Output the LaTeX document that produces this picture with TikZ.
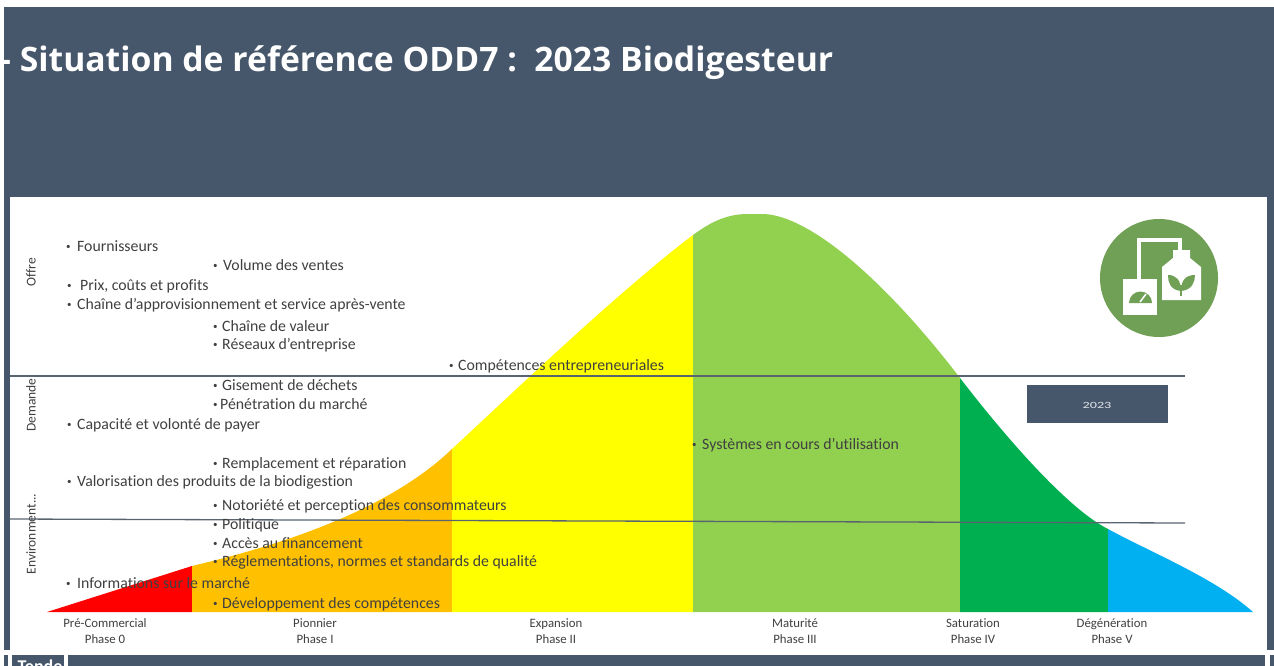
\documentclass[tikz,border=0pt]{standalone}
\usepackage{fontspec}
\setmainfont[Ligatures={TeX,NoCommon}]{Carlito}
\newfontfamily\titlefont{Open Sans}
\definecolor{slate}{HTML}{46566B}
\definecolor{txt}{HTML}{404040}
\definecolor{iconG}{HTML}{70A056}
\definecolor{cOrange}{HTML}{FFC000}
\definecolor{cRed}{HTML}{FF0000}
\definecolor{cYellow}{HTML}{FFFF00}
\definecolor{cLime}{HTML}{92D050}
\definecolor{cGreen}{HTML}{00B050}
\definecolor{cBlue}{HTML}{00B0F0}
\definecolor{ruleC}{HTML}{5A6470}
\newcommand{\bul}[1]{\makebox[#1pt][l]{\raisebox{2pt}{\fontsize{9}{9}\selectfont •}}}
\tikzset{
  item/.style={anchor=west,inner sep=0pt,text=txt,font=\fontsize{15.8}{16}\selectfont},
  phase/.style={align=center,inner sep=0pt,text=txt,font=\fontsize{12.8}{16}\selectfont},
  axislabel/.style={rotate=90,inner sep=0pt,text=txt,font=\fontsize{13.5}{14}\selectfont},
  rulel/.style={draw=ruleC,line width=1.3pt}
}
\newcommand{\curvepath}{(47,612) -- (192,566) .. controls (250,552) and (378,520) .. (452,449) .. controls (505,400) and (620,290) .. (693,235) .. controls (712,221) and (728,214) .. (748,214) -- (764,214) .. controls (810,216) and (885,280) .. (960,378) .. controls (1010,443) and (1070,510) .. (1108,529) .. controls (1150,552) and (1215,578) .. (1253,612) -- cycle}
\begin{document}
\begin{tikzpicture}[x=1pt,y=-1pt]
\useasboundingbox (0,0) rectangle (1274,666);
\fill[white] (0,0) rectangle (1274,666);
\fill[slate] (4,7) rectangle (1274,650);
\fill[white] (10,197) rectangle (1267,650);
\fill[white] (0,650) rectangle (1274,655);
\fill[slate] (68,655) rectangle (1265,666);
\fill[slate] (12,655) rectangle (64,666);
\fill[slate] (4,655) rectangle (8,666);
\fill[slate] (1270,655) rectangle (1274,666);
\begin{scope}
\clip (12,655) rectangle (64,666);
\node[anchor=base,inner sep=0pt,text=white,font=\bfseries\fontsize{18}{18}\selectfont] (tende) at (40,672) {Tende};
\end{scope}
\node[anchor=west,inner sep=0pt,text=white,font=\titlefont\bfseries\fontsize{33.7}{36}\selectfont] (title) at (0,63) {- Situation de référence ODD7 :\ \ 2023 Biodigesteur};
% curve
\begin{scope}
\clip \curvepath;
\fill[cRed] (40,200) rectangle (192,613);
\fill[cOrange] (192,200) rectangle (452,613);
\fill[cYellow] (452,200) rectangle (693,613);
\fill[cLime] (693,200) rectangle (960,613);
\fill[cGreen] (960,200) rectangle (1108,613);
\fill[cBlue] (1108,200) rectangle (1260,613);
\end{scope}
% rules
\draw[rulel] (10,376) -- (1185,376);
\draw[rulel] (10,519) -- (1185,523);
% axis labels
\node[axislabel] (offre) at (31,272) {Offre};
\node[axislabel] (demande) at (31,405) {Demande};
\node[axislabel] (envir) at (31,534) {Environment...};
% items
\node[item] (i1) at (66,246) {\bul{11}Fournisseurs};
\node[item] (i2) at (213,265) {\bul{10}Volume des ventes};
\node[item] (i3) at (67,286) {\bul{13}Prix, coûts et profits};
\node[item] (i4) at (67,305) {\bul{10}Chaîne d'approvisionnement et service après-vente};
\node[item] (i5) at (213,326) {\bul{9}Chaîne de valeur};
\node[item] (i6) at (213,345) {\bul{9}Réseaux d'entreprise};
\node[item] (i7) at (449,366) {\bul{9}Compétences entrepreneuriales};
\node[item] (i8) at (213,385) {\bul{9}Gisement de déchets};
\node[item] (i9) at (213,404) {\bul{7}Pénétration du marché};
\node[item] (i10) at (67,425) {\bul{10}Capacité et volonté de payer};
\node[item] (i11) at (692,445) {\bul{10}Systèmes en cours d'utilisation};
\node[item] (i12) at (213,464) {\bul{9}Remplacement et réparation};
\node[item] (i13) at (67,482) {\bul{10}Valorisation des produits de la biodigestion};
\node[item] (i14) at (213,506) {\bul{9}Notoriété et perception des consommateurs};
\node[item] (i15) at (213,525) {\bul{9}Politique};
\node[item] (i16) at (213,543) {\bul{9}Accès au financement};
\node[item] (i17) at (213,562) {\bul{9}Réglementations, normes et standards de qualité};
\node[item] (i18) at (66,583) {\bul{11}Informations sur le marché};
\node[item] (i19) at (213,604) {\bul{9}Développement des compétences};
% phases
\node[phase] (p0) at (105,631) {Pré-Commercial\\Phase 0};
\node[phase] (p1) at (315,631) {Pionnier\\Phase I};
\node[phase] (p2) at (556,631) {Expansion\\Phase II};
\node[phase] (p3) at (795,631) {Maturité\\Phase III};
\node[phase] (p4) at (973,631) {Saturation\\Phase IV};
\node[phase] (p5) at (1112,631) {Dégénération\\Phase V};
% year box
\fill[slate] (1027,385) rectangle (1168,423);
\node[inner sep=0pt,text=white!85!slate,xscale=1.5,font=\fontsize{9.5}{10}\selectfont] (year) at (1097,405) {2023};
% icon
\fill[iconG] (1159,278) circle (59);
\draw[white,line width=4pt] (1139,280) -- (1139,240) -- (1180,240) -- (1180,254);
\fill[white] (1123,279) rectangle (1157,315);
\fill[white] (1173,250) -- (1190,250) -- (1190,258) -- (1201,267) -- (1201,300) -- (1162,300) -- (1162,267) -- (1173,258) -- cycle;
\fill[iconG] (1129,303) -- (1152,303) arc[start angle=0,delta angle=-180,radius=11.5] -- cycle;
\draw[white,line width=1.6pt] (1140,302) -- (1146,294);
\fill[iconG] (1181,291) .. controls (1170,290) and (1168,282) .. (1168,275) .. controls (1176,275) and (1181,280) .. (1181,291) -- cycle;
\fill[iconG] (1181,291) .. controls (1192,290) and (1195,282) .. (1195,275) .. controls (1186,275) and (1181,280) .. (1181,291) -- cycle;
\draw[iconG,line width=1.5pt] (1181,285) -- (1181,296);
\end{tikzpicture}
\end{document}
